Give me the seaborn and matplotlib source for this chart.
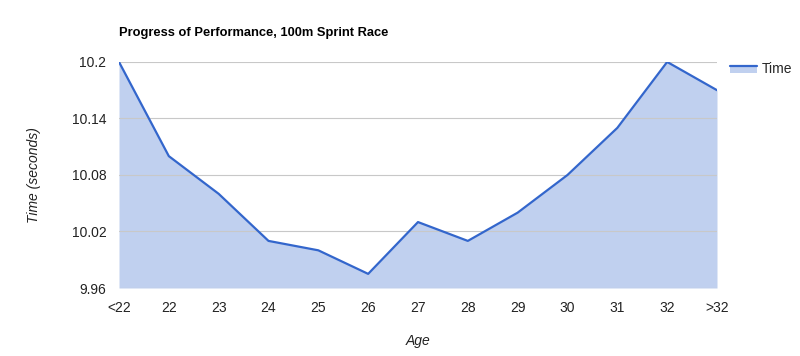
import matplotlib
matplotlib.use("Agg")
import matplotlib.pyplot as plt
import seaborn as sns
import pandas as pd
from matplotlib.patches import Rectangle, Patch
from matplotlib.lines import Line2D

ages = ["<22", "22", "23", "24", "25", "26", "27", "28", "29", "30", "31", "32", ">32"]
times = [10.2, 10.1, 10.06, 10.01, 10.0, 9.975, 10.03, 10.01, 10.04, 10.08, 10.13, 10.2, 10.17]
yticks = [9.96, 10.02, 10.08, 10.14, 10.2]
ytick_labels = ["9.96", "10.02", "10.08", "10.14", "10.2"]

sns.set_style("white")
plt.rcParams['font.family'] = ['Liberation Sans', 'DejaVu Sans']

df = pd.DataFrame({"pos": range(len(ages)), "Time": times})

fig = plt.figure(figsize=(8, 3.56), dpi=100)
ax = fig.add_axes([0.14875, 0.191, 0.7475, 0.635])

line_color = "#3366cc"
fill_color = "#c0d0ef"

ax.fill_between(df["pos"], df["Time"], 9.96, color=fill_color, linewidth=0, zorder=1)
sns.lineplot(data=df, x="pos", y="Time", ax=ax, color=line_color, linewidth=1.6, zorder=3, legend=False)

ax.set_xlim(0, len(ages) - 1)
ax.set_ylim(9.96, 10.2)
ax.set_xticks(range(len(ages)))
ax.set_xticklabels(ages, fontsize=10, color="#222222")
ax.set_yticks(yticks)
ax.set_yticklabels(ytick_labels, fontsize=10, color="#222222")
ax.tick_params(axis="x", length=0, pad=9)
ax.tick_params(axis="y", length=0, pad=9)
ax.yaxis.grid(True, color="#c8c8c8", linewidth=0.8, zorder=2)
ax.set_axisbelow(False)
for s in ax.spines.values():
    s.set_visible(False)

ax.set_xlabel("Age", fontsize=10, style="italic", color="#222222", labelpad=14)
ax.set_ylabel("Time (seconds)", fontsize=10, style="italic", color="#222222", labelpad=22)

fig.text(119 / 800, 1 - 33 / 356, "Progress of Performance, 100m Sprint Race",
         fontsize=9.3, fontweight="bold", color="#000000", va="center", ha="left")


class AreaHandler:
    def legend_artist(self, legend, orig_handle, fontsize, handlebox):
        x0, y0 = handlebox.xdescent, handlebox.ydescent
        w, h = handlebox.width, handlebox.height
        top = y0 + h * 0.75
        bottom = y0 + h * 0.05
        rect = Rectangle((x0, bottom), w, top - bottom, facecolor=fill_color, edgecolor="none",
                         transform=handlebox.get_transform())
        ln = Line2D([x0, x0 + w], [top, top], color=line_color, linewidth=1.6,
                    transform=handlebox.get_transform())
        handlebox.add_artist(rect)
        handlebox.add_artist(ln)
        return rect


proxy = Patch(facecolor=fill_color)
leg = ax.legend([proxy], ["Time"], handler_map={Patch: AreaHandler()},
                loc="upper left", bbox_to_anchor=(1.0, 1.055), frameon=False, fontsize=10,
                handlelength=2.0, handletextpad=0.35)

fig.savefig("out.png", dpi=100)
